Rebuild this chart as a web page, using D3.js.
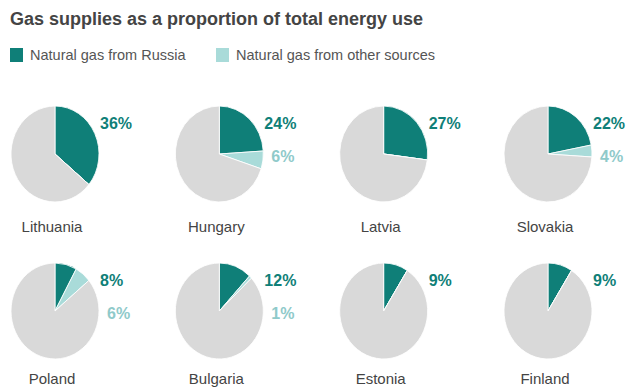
<!DOCTYPE html>
<html>
  <head>
    <meta charset="utf-8">
    <title>Gas supplies</title>
    <script src="https://d3js.org/d3.v7.min.js"></script>
    <style>
      body { margin: 0; background: #fff; }
      text { font-family: "Liberation Sans", Arial, sans-serif; }
    </style>
  </head>
  <body>
    <svg id="chart" width="634" height="390"></svg>
    <script>
      // data
      var countries = ["Lithuania", "Hungary", "Latvia", "Slovakia", "Poland", "Bulgaria", "Estonia", "Finland"];
      var russia = [36, 24, 27, 22, 8, 12, 9, 9];
      var other = [0, 6, 0, 4, 6, 1, 0, 0];
      var legendLabels = ["Natural gas from Russia", "Natural gas from other sources"];

      var colors = { russia: "#0f7f78", other: "#a9dbd9", rest: "#d9d9d9" };
      var svg = d3.select("#chart");

      svg.append("text")
        .attr("x", 10).attr("y", 25)
        .attr("font-size", 18).attr("font-weight", "bold")
        .attr("fill", "#444")
        .text("Gas supplies as a proportion of total energy use");

      // legend
      var legend = svg.selectAll(".legend")
          .data(legendLabels)
        .enter().append("g")
          .attr("class", "legend")
          .attr("transform", function(d, i) { return "translate(" + [10, 216][i] + ",48)"; });
      legend.append("rect")
        .attr("width", 13).attr("height", 14)
        .attr("fill", function(d, i) { return i ? colors.other : colors.russia; });
      legend.append("text")
        .attr("x", 20).attr("y", 12)
        .attr("font-size", 14.5).attr("fill", "#555")
        .text(function(d) { return d; });

      // grid of pies
      var col = d3.scalePoint().domain(d3.range(4)).range([55, 548]);
      var row = d3.scalePoint().domain(d3.range(2)).range([154, 311]);
      var labelRow = d3.scalePoint().domain(d3.range(2)).range([232, 384]);
      var r = 44;
      var pie = d3.pie().sort(null);
      var arc = d3.arc().innerRadius(0).outerRadius(r);

      var cells = svg.selectAll(".cell")
          .data(countries)
        .enter().append("g")
          .attr("class", "cell")
          .attr("transform", function(d, i) {
            return "translate(" + col(i % 4) + "," + row(Math.floor(i / 4)) + ")";
          });

      cells.each(function(d, i) {
        var g = d3.select(this);
        var rw = Math.floor(i / 4);
        var vals = [russia[i], other[i], 100 - russia[i] - other[i]];
        g.append("g")
          .attr("transform", "scale(1,1.09)")
          .selectAll("path")
            .data(pie(vals))
          .enter().append("path")
            .attr("d", arc)
            .attr("fill", function(p, k) { return [colors.russia, colors.other, colors.rest][k]; })
            .attr("stroke", "#fff")
            .attr("stroke-width", 0.8);
        g.append("text")
          .attr("x", 45).attr("y", -25)
          .attr("font-size", 16).attr("font-weight", "bold")
          .attr("fill", colors.russia)
          .text(russia[i] + "%");
        if (other[i] > 0) {
          g.append("text")
            .attr("x", 52).attr("y", 8)
            .attr("font-size", 16).attr("font-weight", "bold")
            .attr("fill", "#8fcaca")
            .text(other[i] + "%");
        }
        g.append("text")
          .attr("x", -3).attr("y", labelRow(rw) - row(rw))
          .attr("text-anchor", "middle")
          .attr("font-size", 15).attr("fill", "#444")
          .text(d);
      });
    </script>
  </body>
</html>
